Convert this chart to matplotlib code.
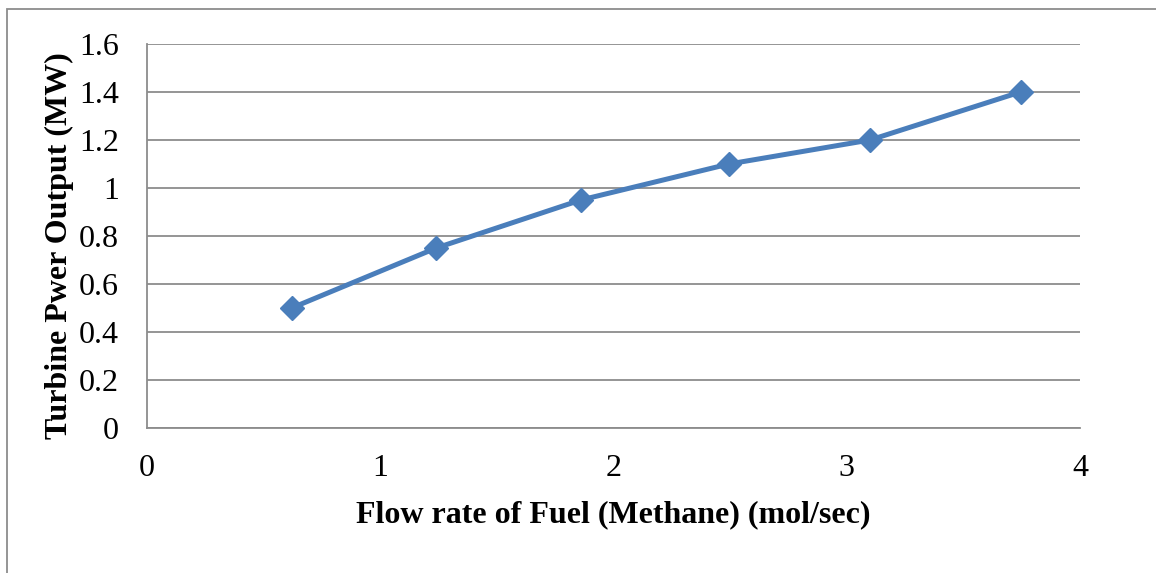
import matplotlib.pyplot as plt
from matplotlib.patches import Rectangle

# fuel flow (mol/sec) vs turbine power (MW)
flow_rate = [0.62, 1.24, 1.86, 2.495, 3.1, 3.745]
power_mw = [0.5, 0.75, 0.95, 1.1, 1.2, 1.4]

x_ticks = [0, 1, 2, 3, 4]
y_ticks = [0, 0.2, 0.4, 0.6, 0.8, 1, 1.2, 1.4, 1.6]
y_tick_labels = ['0', '0.2', '0.4', '0.6', '0.8', '1', '1.2', '1.4', '1.6']

plt.rcParams['font.family'] = ['Liberation Serif', 'DejaVu Serif']

fig = plt.figure(figsize=(11.56, 5.73), dpi=100)
ax = fig.add_axes([147/1156, 1 - 428/573, 933/1156, 384/573])

grid_col = '#8c8c8c'
ax.plot(flow_rate, power_mw, color='#4a7ebb', linewidth=3.6, marker='D',
        markersize=12, markerfacecolor='#4a7ebb', markeredgecolor='#4a7ebb',
        solid_joinstyle='round', zorder=3)

ax.set_xlim(0, 4)
ax.set_ylim(0, 1.6)
ax.set_xticks(x_ticks)
ax.set_yticks(y_ticks)
ax.set_yticklabels(y_tick_labels)
ax.yaxis.grid(True, color=grid_col, linewidth=1.3)
ax.set_axisbelow(True)

for side in ['top', 'right']:
    ax.spines[side].set_visible(False)
for side in ['left', 'bottom']:
    ax.spines[side].set_color(grid_col)
    ax.spines[side].set_linewidth(1.3)

ax.tick_params(axis='y', length=0, labelsize=23, pad=20)
ax.tick_params(axis='x', length=0, labelsize=23, pad=19)

ax.set_xlabel('Flow rate of Fuel (Methane) (mol/sec)', fontsize=23,
              fontweight='bold', labelpad=12)
ax.set_ylabel('Turbine Pwer Output (MW)', fontsize=23, fontweight='bold')
ax.yaxis.set_label_coords(-73/933, 0.474)

# chart area frame
fig.patches.append(Rectangle((7/1156, -0.1), 1.2, 1 - 9/573 + 0.1,
                             transform=fig.transFigure, fill=False,
                             edgecolor='#8c8c8c', linewidth=1.3))

fig.savefig('out.png', dpi=100)
